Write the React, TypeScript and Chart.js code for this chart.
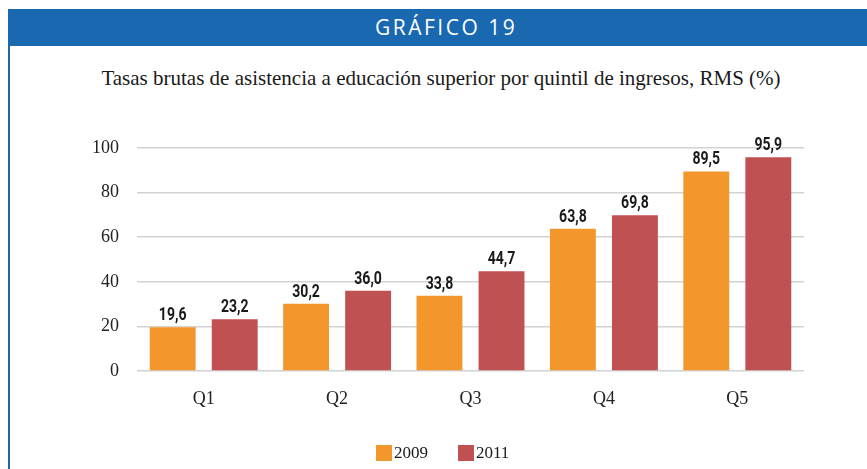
import React, { useEffect, useRef } from "react";
import { Chart, registerables } from "chart.js";

Chart.register(...registerables);

const headerText = "GRÁFICO 19";
const titleText =
  "Tasas brutas de asistencia a educación superior por quintil de ingresos, RMS (%)";
const categories = ["Q1", "Q2", "Q3", "Q4", "Q5"];
const seriesLabels = ["2009", "2011"];
const series2009 = [19.6, 30.2, 33.8, 63.8, 89.5];
const series2011 = [23.2, 36.0, 44.7, 69.8, 95.9];
const yTicks = [0, 20, 40, 60, 80, 100];

const ORANGE = "rgb(243,150,43)";
const RED = "rgb(192,81,83)";
const BLUE = "rgb(25,104,176)";
const SERIF = "'Liberation Serif', serif";

const valueLabels = {
  id: "valueLabels",
  afterDatasetsDraw(chart: any) {
    const ctx = chart.ctx;
    chart.data.datasets.forEach((ds: any, i: number) => {
      const meta = chart.getDatasetMeta(i);
      meta.data.forEach((bar: any, j: number) => {
        const v = ds.data[j] as number;
        const txt = v.toFixed(1).replace(".", ",");
        ctx.save();
        ctx.translate(bar.x, bar.y - 7);
        ctx.scale(0.78, 1);
        ctx.font = "bold 18px Roboto";
        ctx.fillStyle = "#1a1a1a";
        ctx.textAlign = "center";
        ctx.textBaseline = "alphabetic";
        ctx.fillText(txt, 0, 0);
        ctx.restore();
      });
    });
  },
};

export default function App() {
  const canvasRef = useRef<HTMLCanvasElement | null>(null);

  useEffect(() => {
    if (!canvasRef.current) return;
    const chart = new Chart(canvasRef.current, {
      type: "bar",
      data: {
        labels: categories,
        datasets: [
          {
            label: seriesLabels[0],
            data: series2009,
            backgroundColor: ORANGE,
            categoryPercentage: 0.93,
            barPercentage: 0.74,
          },
          {
            label: seriesLabels[1],
            data: series2011,
            backgroundColor: RED,
            categoryPercentage: 0.93,
            barPercentage: 0.74,
          },
        ],
      },
      options: {
        responsive: false,
        animation: false,
        layout: { padding: { top: 148, right: 63, bottom: 0, left: 0 } },
        plugins: {
          legend: { display: false },
          title: { display: false },
          tooltip: { enabled: false },
        },
        scales: {
          x: {
            grid: { display: false },
            border: { display: false },
            ticks: {
              padding: 9,
              color: "#222",
              font: { family: SERIF, size: 18 },
            },
            afterFit: (scale: any) => {
              scale.height = 98;
            },
          },
          y: {
            min: 0,
            max: 100,
            afterBuildTicks: (scale: any) => {
              scale.ticks = yTicks.map((v) => ({ value: v }));
            },
            grid: {
              color: "#d2d2d2",
              lineWidth: 1.5,
              drawTicks: false,
            },
            border: { display: false },
            ticks: {
              padding: 18,
              color: "#222",
              font: { family: SERIF, size: 18 },
            },
            afterFit: (scale: any) => {
              scale.width = 137;
            },
          },
        },
      },
      plugins: [valueLabels],
    });
    return () => chart.destroy();
  }, []);

  return (
    <div
      style={{
        position: "fixed",
        left: 0,
        top: 0,
        width: 867,
        height: 469,
        background: "#fff",
        overflow: "hidden",
      }}
    >
      <div
        style={{
          position: "absolute",
          left: 8,
          top: 9,
          width: 859,
          height: 37,
          background: BLUE,
          color: "#fff",
          fontFamily: "'Open Sans', Lato, sans-serif",
          fontSize: 21,
          letterSpacing: 2.5,
          lineHeight: "37px",
        }}
      >
        <span style={{ position: "absolute", left: 367, top: 0 }}>{headerText}</span>
      </div>
      <div
        style={{
          position: "absolute",
          left: 8,
          top: 46,
          width: 2,
          height: 423,
          background: BLUE,
        }}
      />
      <div
        style={{
          position: "absolute",
          left: 0,
          top: 65,
          width: 882,
          textAlign: "center",
          fontFamily: SERIF,
          fontSize: 21,
          lineHeight: "26px",
          color: "#1a1a1a",
          whiteSpace: "nowrap",
        }}
      >
        {titleText}
      </div>
      <canvas
        ref={canvasRef}
        width={867}
        height={469}
        style={{ position: "absolute", left: 0, top: 0 }}
      />
      <div
        style={{
          position: "absolute",
          left: 376,
          top: 444,
          display: "flex",
          alignItems: "center",
          fontFamily: SERIF,
          fontSize: 17,
          color: "#1a1a1a",
          lineHeight: "18px",
        }}
      >
        <span style={{ width: 16, height: 16, background: ORANGE, display: "inline-block", marginRight: 2 }} />
        <span style={{ marginRight: 30 }}>{seriesLabels[0]}</span>
        <span style={{ width: 16, height: 16, background: RED, display: "inline-block", marginRight: 2 }} />
        <span>{seriesLabels[1]}</span>
      </div>
    </div>
  );
}
